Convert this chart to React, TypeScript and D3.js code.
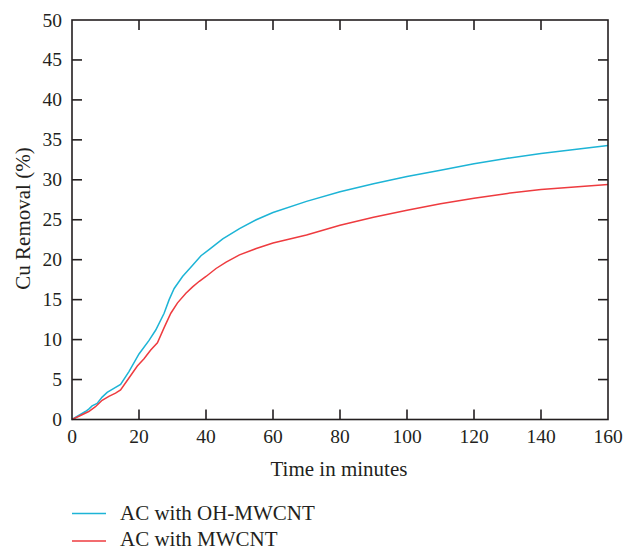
import React from "react";
import * as d3 from "d3";

const xTicks = [0, 20, 40, 60, 80, 100, 120, 140, 160];
const yTicks = [0, 5, 10, 15, 20, 25, 30, 35, 40, 45, 50];

const ohTime = [0, 2, 4, 5, 6, 7.5, 9, 10.5, 12.5, 14.5, 17, 20, 23, 25, 27.5, 29, 30.5, 33, 36, 38.5, 41, 45, 50, 55, 60, 70, 80, 90, 100, 110, 120, 130, 140, 150, 160];
const ohValues = [0, 0.5, 1.0, 1.3, 1.7, 2.0, 2.8, 3.4, 3.9, 4.4, 6.0, 8.2, 9.9, 11.2, 13.3, 15.0, 16.4, 17.9, 19.3, 20.5, 21.3, 22.6, 23.9, 25.0, 25.9, 27.3, 28.5, 29.5, 30.4, 31.2, 32.0, 32.7, 33.3, 33.8, 34.3];

const mwTime = [0, 3, 5, 7, 9, 11, 13, 14.5, 17, 19.5, 21.5, 23.5, 25.5, 27.5, 29.5, 31.5, 34, 36, 38, 40, 43, 46, 50, 55, 60, 65, 70, 80, 90, 100, 110, 120, 130, 140, 150, 160];
const mwValues = [0, 0.6, 1.0, 1.6, 2.4, 2.9, 3.3, 3.7, 5.2, 6.7, 7.6, 8.7, 9.6, 11.5, 13.3, 14.6, 15.8, 16.6, 17.3, 17.9, 18.9, 19.7, 20.6, 21.4, 22.1, 22.6, 23.1, 24.3, 25.3, 26.2, 27.0, 27.7, 28.3, 28.8, 29.1, 29.4];

const seriesNames = ["AC with OH-MWCNT", "AC with MWCNT"];
const seriesColors = ["#1db4d6", "#ee3b3f"];

export default function App() {
  const left = 72, right = 608, top = 20, bottom = 419.5;
  const x = d3.scaleLinear().domain([0, 160]).range([left, right]);
  const y = d3.scaleLinear().domain([0, 50]).range([bottom, top]);
  const line = d3.line<[number, number]>().x((d) => x(d[0])).y((d) => y(d[1]));
  const ohData: [number, number][] = ohTime.map((t, i) => [t, ohValues[i]]);
  const mwData: [number, number][] = mwTime.map((t, i) => [t, mwValues[i]]);
  const font = "'Liberation Serif', 'Times New Roman', serif";
  const tickLen = 10;
  return (
    <svg width={625} height={550} style={{ position: "absolute", left: 0, top: 0, background: "#fff" }} fontFamily={font}>
      <rect x={0} y={0} width={625} height={550} fill="#fff" />
      <path d={line(ohData) || ""} fill="none" stroke={seriesColors[0]} strokeWidth={1.5} />
      <path d={line(mwData) || ""} fill="none" stroke={seriesColors[1]} strokeWidth={1.5} />
      <rect x={left} y={top} width={right - left} height={bottom - top} fill="none" stroke="#231f20" strokeWidth={1.6} />
      {xTicks.map((t) => (
        <g key={"x" + t}>
          {t > 0 && t < 160 && (
            <>
              <line x1={x(t)} x2={x(t)} y1={bottom} y2={bottom - tickLen} stroke="#231f20" strokeWidth={1.6} />
              <line x1={x(t)} x2={x(t)} y1={top} y2={top + tickLen} stroke="#231f20" strokeWidth={1.6} />
            </>
          )}
          <text x={x(t)} y={443} textAnchor="middle" fontSize={19.5} fill="#231f20">{t}</text>
        </g>
      ))}
      {yTicks.map((t) => (
        <g key={"y" + t}>
          {t > 0 && t < 50 && (
            <>
              <line x1={left} x2={left + tickLen} y1={y(t)} y2={y(t)} stroke="#231f20" strokeWidth={1.6} />
              <line x1={right} x2={right - tickLen} y1={y(t)} y2={y(t)} stroke="#231f20" strokeWidth={1.6} />
            </>
          )}
          <text x={62} y={y(t) + 6.5} textAnchor="end" fontSize={19.5} fill="#231f20">{t}</text>
        </g>
      ))}
      <text x={339} y={475.5} textAnchor="middle" fontSize={21} fill="#231f20">Time in minutes</text>
      <text transform={`translate(30, 218.5) rotate(-90)`} textAnchor="middle" fontSize={21} fill="#231f20">Cu Removal (%)</text>
      {seriesNames.map((n, i) => (
        <g key={n}>
          <line x1={72} x2={106} y1={513.5 + i * 27.5} y2={513.5 + i * 27.5} stroke={seriesColors[i]} strokeWidth={1.5} />
          <text x={120} y={519.5 + i * 26.5} fontSize={21} fill="#231f20">{n}</text>
        </g>
      ))}
    </svg>
  );
}
